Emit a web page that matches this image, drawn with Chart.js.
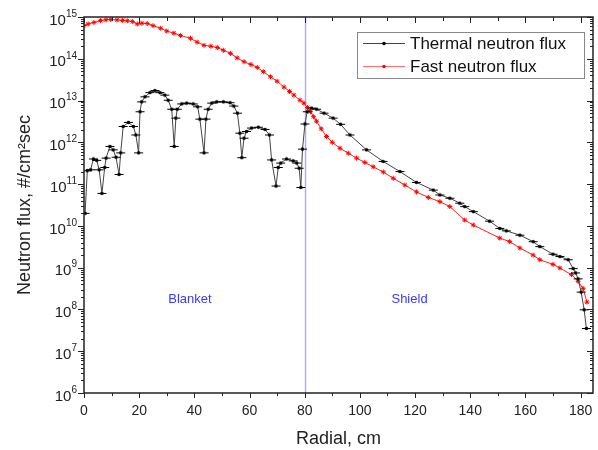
<!DOCTYPE html>
<html>
<head>
<meta charset="utf-8">
<script src="https://cdn.jsdelivr.net/npm/chart.js@4.4.0/dist/chart.umd.min.js"></script>
<style>
  html, body { margin: 0; padding: 0; background: #fff; }
</style>
</head>
<body>
<canvas id="chart" width="598" height="450"></canvas>
<script>
// --- data (radial position in cm, flux in #/cm2 sec) ---
const thermalR = [0.4, 1.2, 2.4, 3.4, 4.6, 5.5, 6.5, 7.5, 8.0, 9.4, 10.6, 11.6, 12.7, 13.3, 14.2, 16.1, 17.9, 18.8, 19.8,
  20.3, 20.9, 22.1, 23.9, 25.7, 27.5, 29.3, 30.5, 31.8, 32.7, 33.3, 33.8, 35.4, 37.2, 39.6, 41.2, 42.0, 43.5,
  44.2, 45.0, 46.3, 48.1, 50.5, 52.9, 54.3, 55.6, 56.5, 57.2, 58.0, 58.9, 60.7, 63.2, 65.6, 67.2, 68.0, 69.6,
  70.4, 71.3, 73.4, 75.8, 77.1, 78.0, 78.6, 79.2, 80.1, 80.9, 82.5, 84.3, 87.0, 90.3, 93.0, 96.4, 102.4, 108.4,
  114.5, 120.5, 126.6, 129.0, 132.6, 136.2, 138.0, 141.1, 147.0, 150.7, 153.1, 158.0, 162.8, 165.2, 170.0, 172.5,
  175.5, 177.3, 178.2, 179.1, 180.2, 181.3, 182.1];
const thermalFlux = [2e10, 2.1e11, 2.2e11, 4e11, 3.7e11, 2.2e11, 6e10, 2.5e11, 4.2e11, 8e11, 6.6e11, 4.4e11, 1.7e11, 5.6e11, 2.4e12, 3e12, 2.4e12, 1.5e12, 5.6e11,
  5.4e12, 9.3e12, 1.23e13, 1.55e13, 1.74e13, 1.55e13, 1.35e13, 1.02e13, 6.2e12, 8e11, 3.8e12, 6.2e12, 8.3e12, 8.7e12, 8.3e12, 7.1e12, 3.6e12, 5.6e11,
  3.6e12, 6.2e12, 8.7e12, 9.3e12, 9.3e12, 8.9e12, 7.4e12, 5e12, 1.66e12, 4.3e11, 1.26e12, 1.82e12, 2.2e12, 2.3e12, 2.04e12, 1.5e12, 3.8e11, 9e10,
  2.5e11, 3.2e11, 4e11, 3.6e11, 3.2e11, 2.4e11, 8.3e10, 6.9e11, 2.75e12, 5.4e12, 6.6e12, 6.2e12, 5e12, 3.8e12, 2.7e12, 1.5e12, 6.6e11, 3.5e11,
  2e11, 1.1e11, 7.2e10, 5.5e10, 4.6e10, 3.5e10, 2.9e10, 2.2e10, 1.3e10, 8.7e9, 7.6e9, 6e9, 4.2e9, 3.2e9, 2.1e9, 1.85e9,
  1.55e9, 9.5e8, 7.5e8, 5.4e8, 2.6e8, 9.8e7, 3.5e7];

const fastR = [0, 1.5, 3.6, 6.0, 8.0, 9.7, 12.0, 14.0, 15.7, 17.5, 19.3, 21.0, 22.9, 25.0, 27.8, 30.0, 32.6, 35.0, 38.6,
  41.0, 43.5, 46.0, 48.3, 50.5, 53.1, 55.5, 58.0, 60.5, 62.8, 65.0, 67.6, 70.0, 72.5, 74.5, 76.1, 78.3, 79.7,
  81.0, 82.1, 83.2, 84.3, 86.0, 87.9, 90.0, 92.8, 95.8, 98.8, 101.8, 104.8, 108.5, 112.1, 116.3, 120.5, 124.8,
  129.0, 132.6, 138.0, 141.1, 150.7, 154.3, 158.0, 162.8, 165.2, 170.0, 172.5, 176.7, 179.1, 180.9, 182.3];
const fastFlux = [6.2e14, 6.8e14, 7.4e14, 8.2e14, 8.6e14, 8.7e14, 8.5e14, 8.3e14, 8.1e14, 7.8e14, 6.8e14, 7.1e14, 7e14, 6.2e14, 5.4e14, 4.6e14, 4.1e14, 3.6e14, 3.1e14,
  2.5e14, 2.1e14, 2e14, 1.86e14, 1.6e14, 1.35e14, 1.05e14, 8.5e13, 7.3e13, 6.2e13, 4.9e13, 3.7e13, 2.9e13, 2.1e13, 1.65e13, 1.35e13, 1.02e13, 8.7e12,
  6.8e12, 5.4e12, 4.1e12, 3.2e12, 2.1e12, 1.38e12, 1e12, 7.2e11, 5.5e11, 4.2e11, 3.3e11, 2.6e11, 1.95e11, 1.38e11, 9.5e10, 6.5e10, 4.8e10,
  3.8e10, 2.9e10, 1.38e10, 1.05e10, 5.1e9, 4.2e9, 2.95e9, 2e9, 1.55e9, 1.2e9, 9.8e8, 6.8e8, 4.7e8, 3.2e8, 1.5e8];

const xTicks = [0, 20, 40, 60, 80, 100, 120, 140, 160, 180];
const yDecades = [6, 7, 8, 9, 10, 11, 12, 13, 14, 15];
const boundaryR = 80.3;
const regionNames = ['Blanket', 'Shield'];
const regionR = [38.4, 118];
const regionFlux = 1.7e8;

// black marker: dot with short horizontal bar
const thermalMarker = document.createElement('canvas');
thermalMarker.width = 11; thermalMarker.height = 5;
(() => {
  const c = thermalMarker.getContext('2d');
  c.strokeStyle = '#000'; c.lineWidth = 1;
  c.beginPath(); c.moveTo(1, 2.5); c.lineTo(10, 2.5); c.stroke();
  c.fillStyle = '#000';
  c.beginPath(); c.arc(5.5, 2.5, 1.8, 0, Math.PI * 2); c.fill();
})();

const frame = {
  id: 'frame',
  beforeDatasetsDraw(chart) {
    const { ctx, chartArea: a, scales: { x } } = chart;
    const bx = x.getPixelForValue(boundaryR);
    ctx.save();
    ctx.strokeStyle = '#aab0ff'; ctx.lineWidth = 1.5;
    ctx.beginPath(); ctx.moveTo(bx, a.top); ctx.lineTo(bx, a.bottom); ctx.stroke();
    ctx.restore();
  },
  afterDatasetsDraw(chart) {
    const { ctx, chartArea: a, scales: { x, y } } = chart;
    ctx.save();
    // box
    ctx.strokeStyle = '#222'; ctx.lineWidth = 1.5;
    ctx.strokeRect(a.left, a.top, a.right - a.left, a.bottom - a.top);
    ctx.lineWidth = 1;
    ctx.beginPath();
    // x ticks: out on bottom, in on top
    for (let v = 0; v <= 180; v += 10) {
      const px = Math.round(x.getPixelForValue(v)) + 0.5;
      const len = v % 20 === 0 ? 5 : 3;
      ctx.moveTo(px, a.bottom); ctx.lineTo(px, a.bottom + len);
      ctx.moveTo(px, a.top); ctx.lineTo(px, a.top + len + 1);
    }
    // y ticks: out on left, in on right
    yDecades.forEach(d => {
      for (let m = 1; m <= 9; m++) {
        if (d === 15 && m > 1) break;
        const py = Math.round(y.getPixelForValue(m * Math.pow(10, d))) + 0.5;
        const len = m === 1 ? 6 : 3;
        ctx.moveTo(a.left - len, py); ctx.lineTo(a.left, py);
        ctx.moveTo(a.right - len, py); ctx.lineTo(a.right, py);
      }
    });
    ctx.stroke();

    // y tick labels with superscript exponent
    ctx.fillStyle = '#222';
    ctx.textBaseline = 'middle';
    yDecades.forEach(d => {
      const py = y.getPixelForValue(Math.pow(10, d));
      ctx.font = '10px "Liberation Sans", Arial, sans-serif';
      const sup = String(d);
      const sw = ctx.measureText(sup).width;
      ctx.textAlign = 'right';
      ctx.fillText(sup, a.left - 7, py - 3);
      ctx.font = '15px "Liberation Sans", Arial, sans-serif';
      ctx.fillText('10', a.left - 7 - sw, py + 3.5);
    });

    // region labels
    ctx.fillStyle = '#3838ff';
    ctx.font = '13px "Liberation Sans", Arial, sans-serif';
    ctx.textAlign = 'center';
    regionNames.forEach((n, i) => {
      ctx.fillText(n, x.getPixelForValue(regionR[i]), y.getPixelForValue(regionFlux));
    });

    // legend
    const lx = 357, ly = 32, lw = 227, lh = 46;
    ctx.fillStyle = '#fff';
    ctx.fillRect(lx, ly, lw, lh);
    ctx.strokeStyle = '#888'; ctx.lineWidth = 1;
    ctx.strokeRect(lx + 0.5, ly + 0.5, lw, lh);
    chart.data.datasets.forEach((ds, i) => {
      const rowY = ly + 11.5 + i * 23;
      ctx.strokeStyle = i === 0 ? '#444' : '#ff7070'; ctx.lineWidth = 1;
      ctx.beginPath(); ctx.moveTo(lx + 6, rowY); ctx.lineTo(lx + 48, rowY); ctx.stroke();
      ctx.fillStyle = i === 0 ? '#000' : '#ff0000';
      ctx.beginPath(); ctx.arc(lx + 27, rowY, 1.8, 0, Math.PI * 2); ctx.fill();
      ctx.fillStyle = '#111';
      ctx.font = '17px "Liberation Sans", Arial, sans-serif';
      ctx.textAlign = 'left';
      ctx.fillText(ds.label, lx + 53, rowY + 1);
    });
    ctx.restore();
  }
};

new Chart(document.getElementById('chart'), {
  type: 'line',
  data: {
    datasets: [
      {
        label: 'Thermal neutron flux',
        data: thermalR.map((r, i) => ({ x: r, y: thermalFlux[i] })),
        borderColor: '#444', borderWidth: 1,
        pointStyle: thermalMarker, pointRadius: 3,
        tension: 0
      },
      {
        label: 'Fast neutron flux',
        data: fastR.map((r, i) => ({ x: r, y: fastFlux[i] })),
        borderColor: '#ff2020', borderWidth: 1,
        pointStyle: 'star', pointRadius: 2.5, pointBorderColor: '#ff0000', pointBorderWidth: 1,
        pointBackgroundColor: '#ff0000',
        tension: 0
      }
    ]
  },
  options: {
    responsive: false,
    animation: false,
    layout: { padding: { left: 14, right: 5, top: 17, bottom: 0 } },
    plugins: { legend: { display: false }, tooltip: { enabled: false } },
    scales: {
      x: {
        type: 'linear', min: 0, max: 184.5,
        afterBuildTicks: s => { s.ticks = xTicks.map(v => ({ value: v })); },
        afterFit: s => { s.height = 57; s.paddingLeft = 0; s.paddingRight = 0; },
        grid: { display: false, drawTicks: false },
        border: { display: false },
        ticks: { padding: 10, color: '#222', font: { size: 14, family: '"Liberation Sans", Arial, sans-serif' }, maxRotation: 0 },
        title: { display: true, text: 'Radial, cm', color: '#222', padding: 0,
          font: { size: 18, family: '"Liberation Sans", Arial, sans-serif' } }
      },
      y: {
        type: 'logarithmic', min: 1e6, max: 1e15,
        afterFit: s => { s.width = 70; s.paddingTop = 0; s.paddingBottom = 0; },
        grid: { display: false, drawTicks: false },
        border: { display: false },
        ticks: { display: false },
        title: { display: true, text: 'Neutron flux, #/cm²sec', color: '#222', padding: 0,
          font: { size: 18, family: '"Liberation Sans", Arial, sans-serif' } }
      }
    }
  },
  plugins: [frame]
});
</script>
</body>
</html>
